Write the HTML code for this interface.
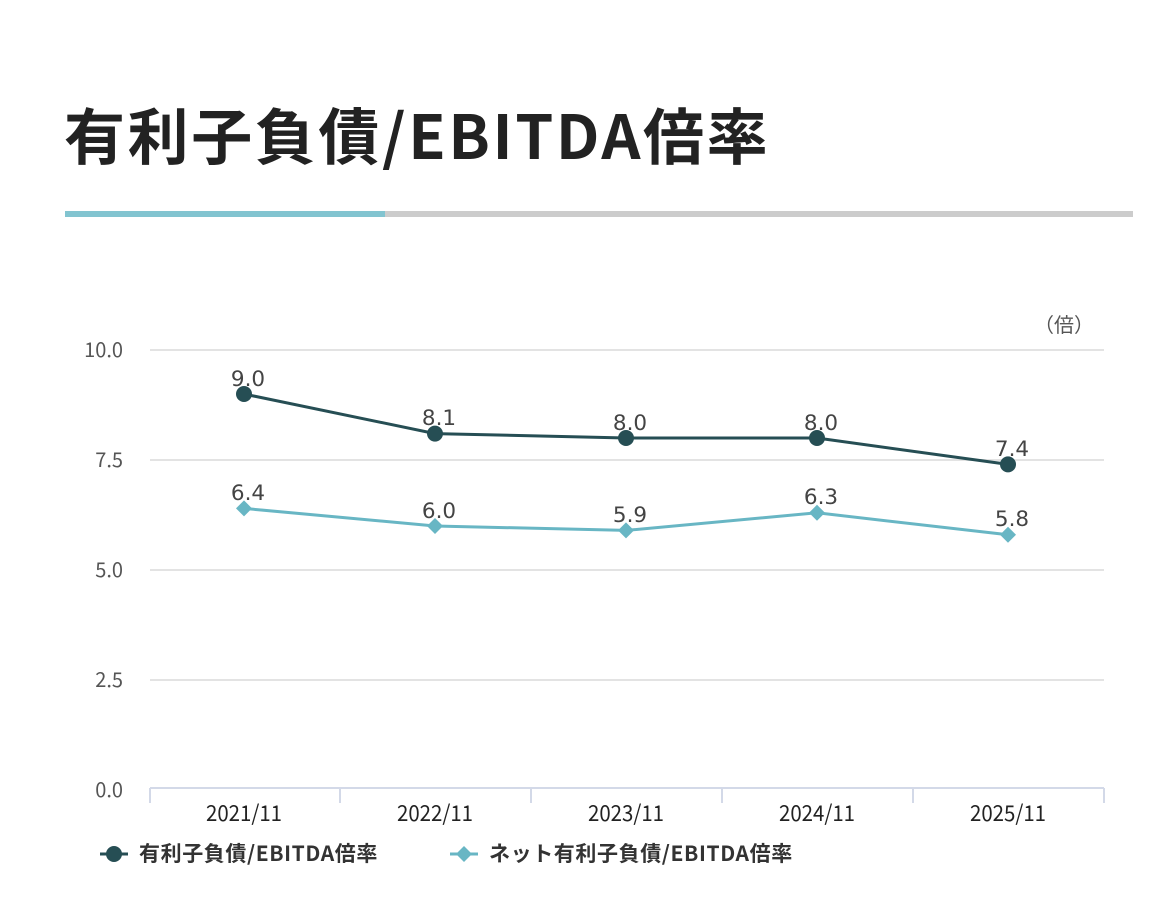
<!DOCTYPE html>
<html><head><meta charset="utf-8">
<style>
html,body{margin:0;padding:0;background:#fff;}
body{width:1158px;height:918px;position:relative;overflow:hidden;font-family:"Liberation Sans","Noto Sans CJK JP",sans-serif;}
.title{position:absolute;left:64px;top:88px;font-family:"Noto Sans CJK JP",sans-serif;font-weight:700;font-size:61px;color:#222;letter-spacing:2.6px;line-height:90px;white-space:nowrap;}
.bar1{position:absolute;left:65px;top:211px;width:320px;height:6px;background:#82c4d0;}
.bar2{position:absolute;left:385px;top:211px;width:748px;height:6px;background:#cccccc;}
svg{position:absolute;left:0;top:0;}
</style></head><body>
<div class="title">有利子負債/EBITDA倍率</div>
<div class="bar1"></div><div class="bar2"></div>
<svg width="1158" height="918" viewBox="0 0 1158 918">
<g stroke="#e3e3e3" stroke-width="2">
<line x1="150" y1="350" x2="1104" y2="350"/>
<line x1="150" y1="460" x2="1104" y2="460"/>
<line x1="150" y1="570" x2="1104" y2="570"/>
<line x1="150" y1="680" x2="1104" y2="680"/>
</g>
<g stroke="#d3d9e8" stroke-width="2">
<line x1="150" y1="788" x2="1104" y2="788"/>
<line x1="150" y1="788" x2="150" y2="803"/>
<line x1="340" y1="788" x2="340" y2="803"/>
<line x1="531" y1="788" x2="531" y2="803"/>
<line x1="722" y1="788" x2="722" y2="803"/>
<line x1="913" y1="788" x2="913" y2="803"/>
<line x1="1104" y1="788" x2="1104" y2="803"/>
</g>
<g font-family="Noto Sans CJK JP, sans-serif" font-size="20" fill="#555" text-anchor="end">
<text x="123" y="357">10.0</text>
<text x="123" y="467">7.5</text>
<text x="123" y="577">5.0</text>
<text x="123" y="687">2.5</text>
<text x="123" y="797">0.0</text>
</g>
<text x="1094" y="332" font-family="Noto Sans CJK JP, sans-serif" font-size="20" fill="#555" text-anchor="end">（倍）</text>
<g font-family="Noto Sans CJK JP, sans-serif" font-size="22" fill="#222" text-anchor="middle">
<text x="244" y="821" textLength="76" lengthAdjust="spacingAndGlyphs">2021/11</text>
<text x="435" y="821" textLength="76" lengthAdjust="spacingAndGlyphs">2022/11</text>
<text x="626" y="821" textLength="76" lengthAdjust="spacingAndGlyphs">2023/11</text>
<text x="817" y="821" textLength="76" lengthAdjust="spacingAndGlyphs">2024/11</text>
<text x="1008" y="821" textLength="76" lengthAdjust="spacingAndGlyphs">2025/11</text>
</g>
<polyline points="244,394 435,433.6 626,438 817,438 1008,464.4" fill="none" stroke="#264e54" stroke-width="3"/>
<g fill="#264e54">
<circle cx="244" cy="394" r="8"/>
<circle cx="435" cy="433.6" r="8"/>
<circle cx="626" cy="438" r="8"/>
<circle cx="817" cy="438" r="8"/>
<circle cx="1008" cy="464.4" r="8"/>
</g>
<polyline points="244,508.4 435,526 626,530.4 817,512.8 1008,534.8" fill="none" stroke="#68b6c4" stroke-width="3"/>
<g fill="#68b6c4">
<polygon points="244,500.4 252,508.4 244,516.4 236,508.4"/>
<polygon points="435,518 443,526 435,534 427,526"/>
<polygon points="626,522.4 634,530.4 626,538.4 618,530.4"/>
<polygon points="817,504.8 825,512.8 817,520.8 809,512.8"/>
<polygon points="1008,526.8 1016,534.8 1008,542.8 1000,534.8"/>
</g>
<g font-family="DejaVu Sans, sans-serif" font-size="21.5" fill="#444" text-anchor="middle">
<text x="248" y="386">9.0</text>
<text x="439" y="425">8.1</text>
<text x="630" y="430">8.0</text>
<text x="821" y="430">8.0</text>
<text x="1012" y="456">7.4</text>
<text x="248" y="500">6.4</text>
<text x="439" y="518">6.0</text>
<text x="630" y="522">5.9</text>
<text x="821" y="504">6.3</text>
<text x="1012" y="526">5.8</text>
</g>
<line x1="100" y1="854" x2="128" y2="854" stroke="#264e54" stroke-width="3"/>
<circle cx="114" cy="854" r="8" fill="#264e54"/>
<text x="139" y="861" font-family="Noto Sans CJK JP, sans-serif" font-size="21" font-weight="700" fill="#333" letter-spacing="0.6">有利子負債/EBITDA倍率</text>
<line x1="450" y1="854" x2="478" y2="854" stroke="#68b6c4" stroke-width="3"/>
<polygon points="464,846 472,854 464,862 456,854" fill="#68b6c4"/>
<text x="489" y="861" font-family="Noto Sans CJK JP, sans-serif" font-size="21" font-weight="700" fill="#333" letter-spacing="0.6">ネット有利子負債/EBITDA倍率</text>
</svg>
</body></html>
